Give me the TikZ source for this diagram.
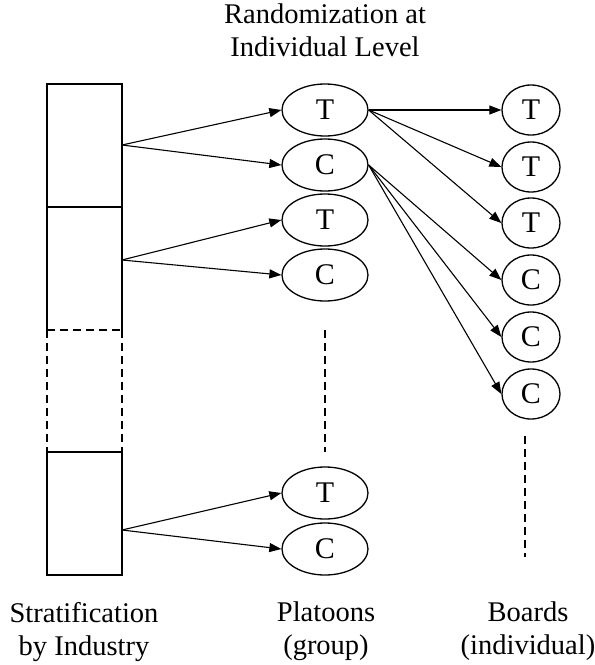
\documentclass[tikz,border=0pt]{standalone}
\usepackage{fontspec}
\setmainfont{Liberation Serif}
\usetikzlibrary{shapes.geometric,arrows.meta}
\begin{document}
\begin{tikzpicture}[x=1pt,y=-1pt,
  txt/.style={font=\fontsize{28.5}{33}\selectfont},
  letter/.style={font=\fontsize{30}{33}\selectfont},
  grp/.style={letter,ellipse,draw,line width=1.3pt,minimum width=86pt,minimum height=52pt,inner sep=0pt},
  ind/.style={letter,ellipse,draw,line width=1.3pt,minimum width=58pt,minimum height=50pt,inner sep=0pt},
  stratum/.style={minimum width=75pt,minimum height=123pt,inner sep=0pt},
  edgeline/.style={line width=1.5pt},
  link/.style={line width=1.1pt,-{Triangle[length=12pt,width=9pt]}},
  gap/.style={line width=1.5pt,dash pattern=on 8pt off 5pt},
  heading/.style={txt,align=center,anchor=north,inner sep=0pt}]
\useasboundingbox (0,0) rectangle (595,665);

% industry strata
\node[stratum,draw,edgeline] (s1) at (84.5,145.5) {};
\node[stratum] (s2) at (84.5,268.5) {};
\node[stratum,minimum height=122pt] (s3) at (84.5,391) {};
\node[stratum,draw,edgeline] (s4) at (84.5,513.5) {};
\draw[edgeline] (s2.south west) -- (s2.north west) -- (s2.north east) -- (s2.south east);
\draw[gap] (s3.north west) -- (s3.south west) (s3.north east) -- (s3.south east)
           (s3.north west) -- (s3.north east);

% arrow origins on the strata
\coordinate (o1) at (122,145);
\coordinate (o2) at (122,260);
\coordinate (o4) at (122,530);

% platoons
\node[grp] (pT1) at (325,110) {T};
\node[grp] (pC1) at (325,165) {C};
\node[grp] (pT2) at (325,220) {T};
\node[grp] (pC2) at (325,275) {C};
\node[grp] (pT3) at (325,493) {T};
\node[grp] (pC3) at (325,549) {C};

% boards
\node[ind] (b1) at (531,110) {T};
\node[ind] (b2) at (531,167) {T};
\node[ind] (b3) at (531,223) {T};
\node[ind] (b4) at (531,280) {C};
\node[ind] (b5) at (531,337) {C};
\node[ind] (b6) at (531,394) {C};

% continuation marks
\coordinate (pd1) at (325,330);
\coordinate (pd2) at (325,452);
\coordinate (bd1) at (525,436);
\coordinate (bd2) at (525,557);
\draw[gap] (pd1) -- (pd2);
\draw[gap] (bd1) -- (bd2);

% assignment arrows
\draw[link] (o1) -- (pT1.west);
\draw[link] (o1) -- (pC1.west);
\draw[link] (o2) -- (pT2.west);
\draw[link] (o2) -- (pC2.west);
\draw[link] (o4) -- (pT3.west);
\draw[link] (o4) -- (pC3.west);
\foreach \b in {b1,b2,b3} \draw[link] (pT1.east) -- (\b.west);
\foreach \b in {b4,b5,b6} \draw[link] (pC1.east) -- (\b.west);

% captions
\node[heading] (title) at (325,4) {Randomization at\\Individual Level};
\node[heading] (capS) at (84,602) {Stratification\\by Industry};
\node[heading] (capP) at (326,602) {Platoons\\(group)};
\node[heading] (capB) at (528,602) {Boards\\(individual)};
\end{tikzpicture}
\end{document}
